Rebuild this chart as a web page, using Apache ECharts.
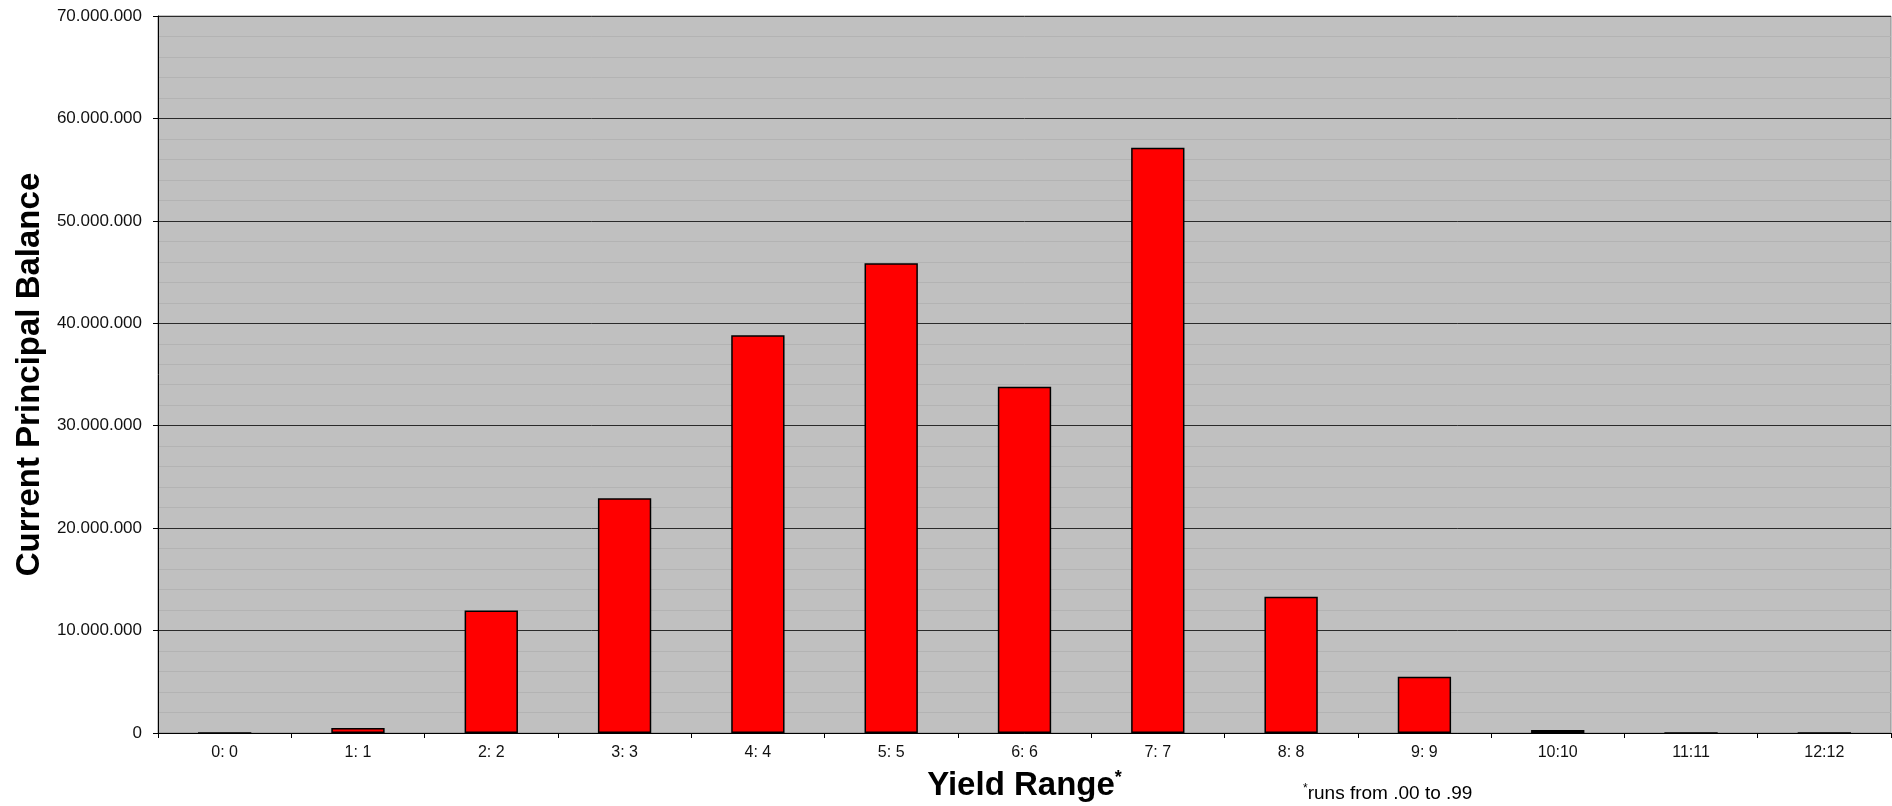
<!DOCTYPE html>
<html>
<head>
<meta charset="utf-8">
<title>Current Principal Balance by Yield Range</title>
<script src="https://cdn.jsdelivr.net/npm/echarts@6/dist/echarts.min.js"></script>
<style>
  html, body { margin: 0; padding: 0; background: #ffffff; }
  #chart { width: 1892px; height: 806px; }
</style>
</head>
<body>
<div id="chart"></div>
<script>
// Yield range buckets
const categories = ['0: 0', '1: 1', '2: 2', '3: 3', '4: 4', '5: 5', '6: 6', '7: 7', '8: 8', '9: 9', '10:10', '11:11', '12:12'];

// Current principal balance per bucket
const balances = [0, 500000, 11950000, 22910000, 38830000, 45850000, 33810000, 57140000, 13310000, 5500000, 290000, 0, 0];

// Value axis range
const yMin = 0;
const yMax = 70000000;
const yStep = 10000000;

const FONT = '"Liberation Sans", Arial, sans-serif';

// 70000000 -> "70.000.000"
function dotted(v) {
  return String(Math.round(v)).replace(/\B(?=(\d{3})+(?!\d))/g, '.');
}

const chart = echarts.init(document.getElementById('chart'), null, { renderer: 'canvas' });

chart.setOption({
  animation: false,
  backgroundColor: '#ffffff',
  grid: {
    left: 158,
    right: 1,
    top: 16,
    bottom: 73,
    containLabel: false,
    outerBoundsMode: 'none',
    show: true,
    backgroundColor: '#c0c0c0',
    borderColor: '#8a8a8a',
    borderWidth: 1
  },
  xAxis: {
    type: 'category',
    data: categories,
    boundaryGap: true,
    axisLine: { show: true, lineStyle: { color: '#000000', width: 1 } },
    axisTick: { show: true, alignWithLabel: false, length: 5, lineStyle: { color: '#000000' } },
    axisLabel: { color: '#111111', fontFamily: FONT, fontSize: 16, margin: 12 },
    splitLine: { show: false },
    name: '{t|Yield Range}{s|*}',
    nameLocation: 'middle',
    nameGap: 36,
    nameTextStyle: {
      rich: {
        t: { fontFamily: FONT, fontSize: 33, fontWeight: 'bold', color: '#000000' },
        s: { fontFamily: FONT, fontSize: 18, fontWeight: 'bold', color: '#000000', verticalAlign: 'top', padding: [0, 0, 16, 0] }
      }
    }
  },
  yAxis: {
    type: 'value',
    min: yMin,
    max: yMax,
    interval: yStep,
    axisLine: { show: true, lineStyle: { color: '#000000', width: 1 } },
    axisTick: { show: true, length: 5, lineStyle: { color: '#000000' } },
    axisLabel: { color: '#111111', fontFamily: FONT, fontSize: 17, margin: 16, formatter: dotted },
    splitLine: { show: true, lineStyle: { color: '#2a2a2a', width: 1 } },
    minorTick: { show: false, splitNumber: 5 },
    minorSplitLine: { show: true, lineStyle: { color: '#b3b3b3', width: 1 } },
    name: 'Current Principal Balance',
    nameLocation: 'middle',
    nameGap: 110,
    nameRotate: 90,
    nameTextStyle: { fontFamily: FONT, fontSize: 33, fontWeight: 'bold', color: '#000000' }
  },
  series: [{
    type: 'bar',
    data: balances,
    barWidth: '40%',
    itemStyle: { color: '#ff0000', borderColor: '#000000', borderWidth: 1.5 },
    emphasis: { disabled: true }
  }],
  graphic: [{
    type: 'text',
    left: 1303,
    top: 783,
    style: {
      text: '{s|*}{t|runs from .00 to .99}',
      rich: {
        s: { fontFamily: FONT, fontSize: 12, fill: '#000000', verticalAlign: 'top', padding: [0, 0, 9, 0] },
        t: { fontFamily: FONT, fontSize: 19, fill: '#000000' }
      }
    }
  }]
});
</script>
</body>
</html>
